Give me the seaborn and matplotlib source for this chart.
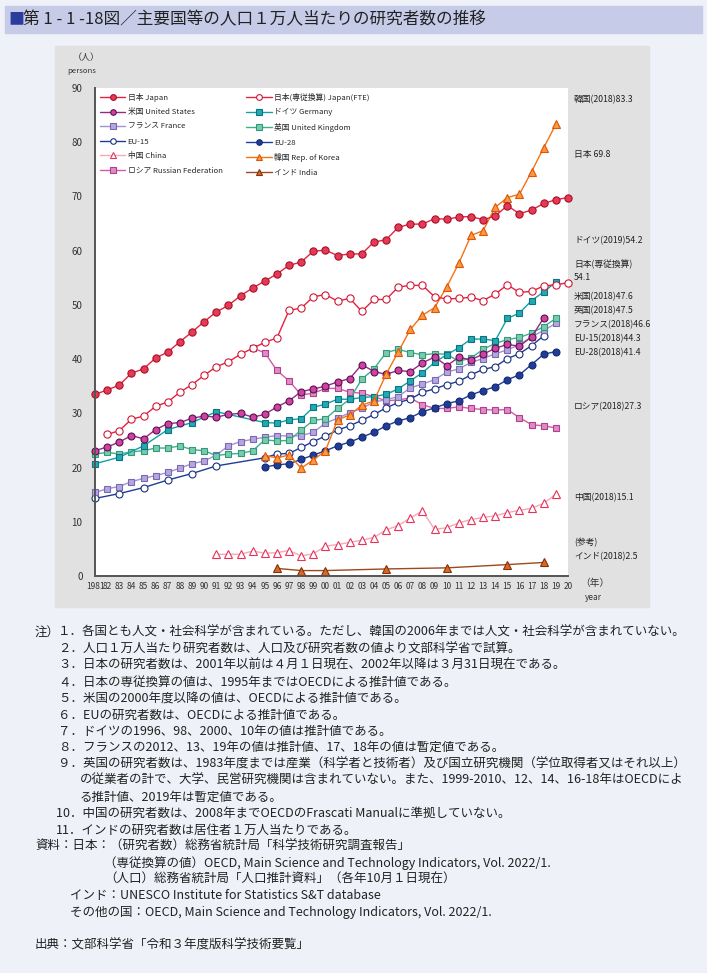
import matplotlib
matplotlib.use("Agg")
import matplotlib.pyplot as plt
from matplotlib.patches import Rectangle
import seaborn as sns

# ---- data ----
years_japan = list(range(1981, 2021))
japan = [33.5, 34.3, 35.2, 37.4, 38.2, 40.2, 41.3, 43.2, 45.0, 46.9,
         48.7, 49.9, 51.7, 53.1, 54.4, 55.7, 57.3, 57.9, 59.9, 60.1,
         59.1, 59.4, 59.4, 61.6, 62.0, 64.3, 64.9, 64.9, 65.9, 65.8,
         66.2, 66.3, 65.7, 66.4, 68.3, 66.8, 67.5, 68.7, 69.4, 69.8]

years_japan_fte = list(range(1982, 2021))
japan_fte = [26.1, 26.8, 28.9, 29.5, 31.3, 32.1, 33.9, 35.3, 37.0,
             38.6, 39.5, 40.9, 42.0, 43.1, 43.9, 49.0, 49.4, 51.5, 51.9,
             50.7, 51.2, 48.8, 51.0, 51.0, 53.3, 53.6, 53.6, 51.5, 51.1,
             51.2, 51.4, 50.8, 52.0, 53.7, 52.3, 52.5, 53.5, 53.7, 54.1]

years_us = list(range(1981, 2019))
us = [23.1, 23.8, 24.7, 25.9, 25.3, 27.0, 28.1, 28.3, 29.1, 29.5,
      29.3, 29.8, 30.0, 29.3, 29.8, 31.2, 32.3, 34.0, 34.5, 35.0,
      35.8, 36.4, 39.0, 37.7, 37.2, 37.9, 37.7, 39.3, 40.4, 38.8,
      40.3, 39.9, 40.9, 42.0, 42.7, 42.4, 44.1, 47.6]

years_germany = [1981, 1983, 1985, 1987, 1989, 1991] + list(range(1995, 2020))
germany = [20.7, 21.9, 24.0, 27.0, 28.3, 30.3,
           28.3, 28.2, 28.8, 29.0, 31.1, 31.7,
           32.6, 32.6, 32.9, 33.1, 33.5, 34.5, 36.0, 37.5, 39.4, 40.8,
           42.1, 43.7, 43.7, 43.4, 47.5, 48.5, 50.8, 52.4, 54.2]

years_france = list(range(1981, 2020))
france = [15.4, 16.1, 16.5, 17.4, 18.0, 18.5, 19.1, 19.9, 20.7, 21.2,
          22.3, 24.0, 24.8, 25.2, 25.6, 25.9, 25.8, 25.9, 26.5, 28.2,
          29.1, 30.1, 30.9, 32.1, 32.5, 33.1, 34.7, 35.4, 36.2, 37.6,
          38.2, 39.4, 40.1, 41.0, 41.7, 42.7, 44.1, 45.3, 46.6]

years_uk = list(range(1981, 2020))
uk = [22.5, 22.8, 22.5, 22.9, 23.1, 23.6, 23.6, 24.0, 23.3, 23.1,
      22.2, 22.5, 22.6, 23.1, 25.1, 24.9, 25.0, 26.9, 28.7, 29.0,
      30.9, 32.6, 36.3, 38.2, 41.2, 41.8, 41.2, 40.8, 41.0, 40.9,
      39.6, 40.2, 41.8, 42.9, 43.6, 44.0, 44.8, 46.0, 47.5]

years_eu15 = [1981, 1983, 1985, 1987, 1989, 1991] + list(range(1995, 2019))
eu15 = [14.3, 15.2, 16.3, 17.7, 18.9, 20.3,
        21.8, 22.5, 22.6, 23.7, 24.8, 25.8,
        26.9, 27.7, 28.7, 29.8, 31.0, 32.0, 32.6, 33.9, 34.5, 35.3,
        35.9, 37.1, 38.1, 38.6, 40.1, 41.0, 42.5, 44.3]

years_eu28 = list(range(1995, 2020))
eu28 = [20.1, 20.5, 20.7, 21.5, 22.3, 23.1, 24.0, 24.7, 25.6, 26.5,
        27.7, 28.6, 29.2, 30.3, 31.0, 31.8, 32.3, 33.4, 34.2, 34.9,
        36.2, 37.1, 39.0, 40.9, 41.4]

years_china = list(range(1991, 2020))
china = [4.0, 4.0, 4.0, 4.6, 4.2, 4.3, 4.7, 3.7, 4.1, 5.5,
         5.8, 6.2, 6.6, 7.1, 8.5, 9.3, 10.7, 12.0, 8.6, 8.9,
         9.8, 10.4, 10.8, 11.1, 11.7, 12.1, 12.5, 13.4, 15.1]

years_korea = list(range(1995, 2020))
korea = [22.2, 21.8, 22.3, 19.9, 21.4, 23.1, 28.8, 29.7, 31.5, 32.3,
         37.2, 41.3, 45.5, 48.1, 49.5, 53.3, 57.7, 62.8, 63.7, 68.0,
         69.8, 70.4, 74.6, 79.0, 83.3]

years_russia = list(range(1994, 2020))
russia = [42.0, 41.2, 37.9, 36.0, 33.4, 33.7, 34.6, 34.6, 33.9, 33.7,
          33.1, 32.3, 32.5, 32.8, 31.6, 30.9, 30.9, 31.2, 30.9, 30.7,
          30.6, 30.7, 29.2, 27.9, 27.7, 27.3]

years_india = [1996, 1998, 2000, 2005, 2010, 2015, 2018]
india = [1.4, 1.0, 1.0, 1.3, 1.5, 2.1, 2.5]

xtick_years = list(range(1981, 2021))
xtick_labels = ["1981"] + [f"{y % 100:02d}" for y in range(1982, 2021)]

end_labels = [
    (100, "韓国(2018)83.3"),
    (155, "日本 69.8"),
    (241, "ドイツ(2019)54.2"),
    (264, "日本(専従換算)"),
    (278, "54.1"),
    (297, "米国(2018)47.6"),
    (311, "英国(2018)47.5"),
    (325, "フランス(2018)46.6"),
    (339, "EU-15(2018)44.3"),
    (353, "EU-28(2018)41.4"),
    (407, "ロシア(2018)27.3"),
    (498, "中国(2018)15.1"),
    (543, "(参考)"),
    (557, "インド(2018)2.5"),
]

notes = [
    (35, 632, "注）"),
    (58, 632, "１．各国とも人文・社会科学が含まれている。ただし、韓国の2006年までは人文・社会科学が含まれていない。"),
    (58, 649, "２．人口１万人当たり研究者数は、人口及び研究者数の値より文部科学省で試算。"),
    (58, 665, "３．日本の研究者数は、2001年以前は４月１日現在、2002年以降は３月31日現在である。"),
    (58, 682, "４．日本の専従換算の値は、1995年まではOECDによる推計値である。"),
    (58, 698, "５．米国の2000年度以降の値は、OECDによる推計値である。"),
    (58, 715, "６．EUの研究者数は、OECDによる推計値である。"),
    (58, 731, "７．ドイツの1996、98、2000、10年の値は推計値である。"),
    (58, 747, "８．フランスの2012、13、19年の値は推計値、17、18年の値は暫定値である。"),
    (58, 764, "９．英国の研究者数は、1983年度までは産業（科学者と技術者）及び国立研究機関（学位取得者又はそれ以上）"),
    (80, 780, "の従業者の計で、大学、民営研究機関は含まれていない。また、1999-2010、12、14、16-18年はOECDによ"),
    (80, 797, "る推計値、2019年は暫定値である。"),
    (56, 813, "10．中国の研究者数は、2008年までOECDのFrascati Manualに準拠していない。"),
    (56, 830, "11．インドの研究者数は居住者１万人当たりである。"),
    (35, 846, "資料：日本：（研究者数）総務省統計局「科学技術研究調査報告」"),
    (104, 863, "（専従換算の値）OECD, Main Science and Technology Indicators, Vol. 2022/1."),
    (104, 879, "（人口）総務省統計局「人口推計資料」（各年10月１日現在）"),
    (70, 896, "インド：UNESCO Institute for Statistics S&T database"),
    (70, 912, "その他の国：OECD, Main Science and Technology Indicators, Vol. 2022/1."),
    (35, 945, "出典：文部科学省「令和３年度版科学技術要覧」"),
]

# ---- figure ----
sns.set_style("white")
plt.rcParams["font.family"] = ["Noto Sans CJK JP", "DejaVu Sans"]

W, H = 707, 973
fig = plt.figure(figsize=(W / 100, H / 100), dpi=100, facecolor="#eef1f7")


def px_text(x, y, s, **kw):
    fig.text(x / W, 1 - y / H, s, **kw)


fig.patches.append(Rectangle((5 / W, 1 - 33 / H), 697 / W, 27 / H,
                             transform=fig.transFigure, color="#c6cbe8", zorder=-1))
fig.patches.append(Rectangle((55 / W, 1 - 607 / H), 594 / W, 561 / H,
                             transform=fig.transFigure, color="#e1e1e1", zorder=-1))

px_text(8, 20, "■", fontsize=11.5, color="#2a3d9c", va="center")
px_text(23, 20, "第 1 - 1 -18図／主要国等の人口１万人当たりの研究者数の推移",
        fontsize=12, color="#222222", va="center")

ax = fig.add_axes([95 / W, 1 - 576 / H, 473 / W, 488 / H])
ax.set_zorder(2)
ax.set_facecolor("white")

series = [
    ("インド India", years_india, india, "#9c4a1c", "^", "#e0661e", "#7a3410", 5.6),
    ("中国 China", years_china, china, "#f5a9ba", "^", "white", "#e8325a", 5.2),
    ("ロシア Russian Federation", years_russia, russia, "#d05ca6", "s", "#de8cc4", "#b0408e", 4.8),
    ("EU-28", years_eu28, eu28, "#1f3c98", "o", "#1f3c98", "#142a70", 5.0),
    ("EU-15", years_eu15, eu15, "#1f3c98", "o", "white", "#1a3080", 5.0),
    ("フランス France", years_france, france, "#a392d2", "s", "#b4a6de", "#7a68b0", 4.8),
    ("英国 United Kingdom", years_uk, uk, "#3fae8e", "s", "#7ccaae", "#2f9a7a", 4.8),
    ("ドイツ Germany", years_germany, germany, "#159fa8", "s", "#22a9b2", "#0c7480", 4.8),
    ("米国 United States", years_us, us, "#9a2886", "o", "#cc44a0", "#5a1050", 5.0),
    ("韓国 Rep. of Korea", years_korea, korea, "#f27314", "^", "#f99846", "#e05500", 5.2),
    ("日本(専従換算) Japan(FTE)", years_japan_fte, japan_fte, "#e5233f", "o", "white", "#d01838", 5.2),
    ("日本 Japan", years_japan, japan, "#e5233f", "o", "#e53a55", "#a8102a", 5.2),
]

handles = {}
for label, xs, ys, lc, mk, mfc, mec, ms in series:
    sns.lineplot(x=xs, y=ys, ax=ax, color=lc, linewidth=1.0, errorbar=None,
                 marker=mk, markersize=ms, markerfacecolor=mfc,
                 markeredgecolor=mec, markeredgewidth=0.8, clip_on=False)
    handles[label] = ax.lines[-1]

legend_order = ["日本 Japan", "米国 United States", "フランス France", "EU-15",
                "中国 China", "ロシア Russian Federation",
                "日本(専従換算) Japan(FTE)", "ドイツ Germany", "英国 United Kingdom",
                "EU-28", "韓国 Rep. of Korea", "インド India"]
ax.legend([handles[k] for k in legend_order], legend_order, ncol=2,
          loc="upper left", bbox_to_anchor=(0.0, 1.0), frameon=False,
          fontsize=5.6, handlelength=3.3, handletextpad=0.3, columnspacing=3.0,
          labelspacing=0.85, borderaxespad=0.2, markerscale=0.8, numpoints=1)

ax.set_xlim(1981, 2020)
ax.set_ylim(0, 90)
ax.set_yticks(range(0, 91, 10))
ax.set_xticks(xtick_years)
ax.set_xticklabels(xtick_labels)
ax.tick_params(axis="y", direction="in", length=3, labelsize=7, pad=9, colors="#333333")
ax.tick_params(axis="x", direction="in", length=2.5, labelsize=6.0, pad=4, colors="#333333")
ax.set_xlabel("")
ax.set_ylabel("")
for side in ["top", "right"]:
    ax.spines[side].set_visible(False)
for side in ["left", "bottom"]:
    ax.spines[side].set_color("#555555")
    ax.spines[side].set_linewidth(1.4)

px_text(73, 58, "（人）", fontsize=6.5, color="#333333", va="center")
px_text(67, 71, "persons", fontsize=5.6, color="#333333", va="center")
px_text(580, 583, "（年）", fontsize=7, color="#333333", va="center")
px_text(585, 598, "year", fontsize=6, color="#333333", va="center")

for y, s in end_labels:
    px_text(574, y, s, fontsize=6.3, color="#222222", va="center")

for x, y, s in notes:
    px_text(x, y, s, fontsize=9.0, color="#222222", va="center")

fig.savefig("out.png", dpi=100, facecolor=fig.get_facecolor())
